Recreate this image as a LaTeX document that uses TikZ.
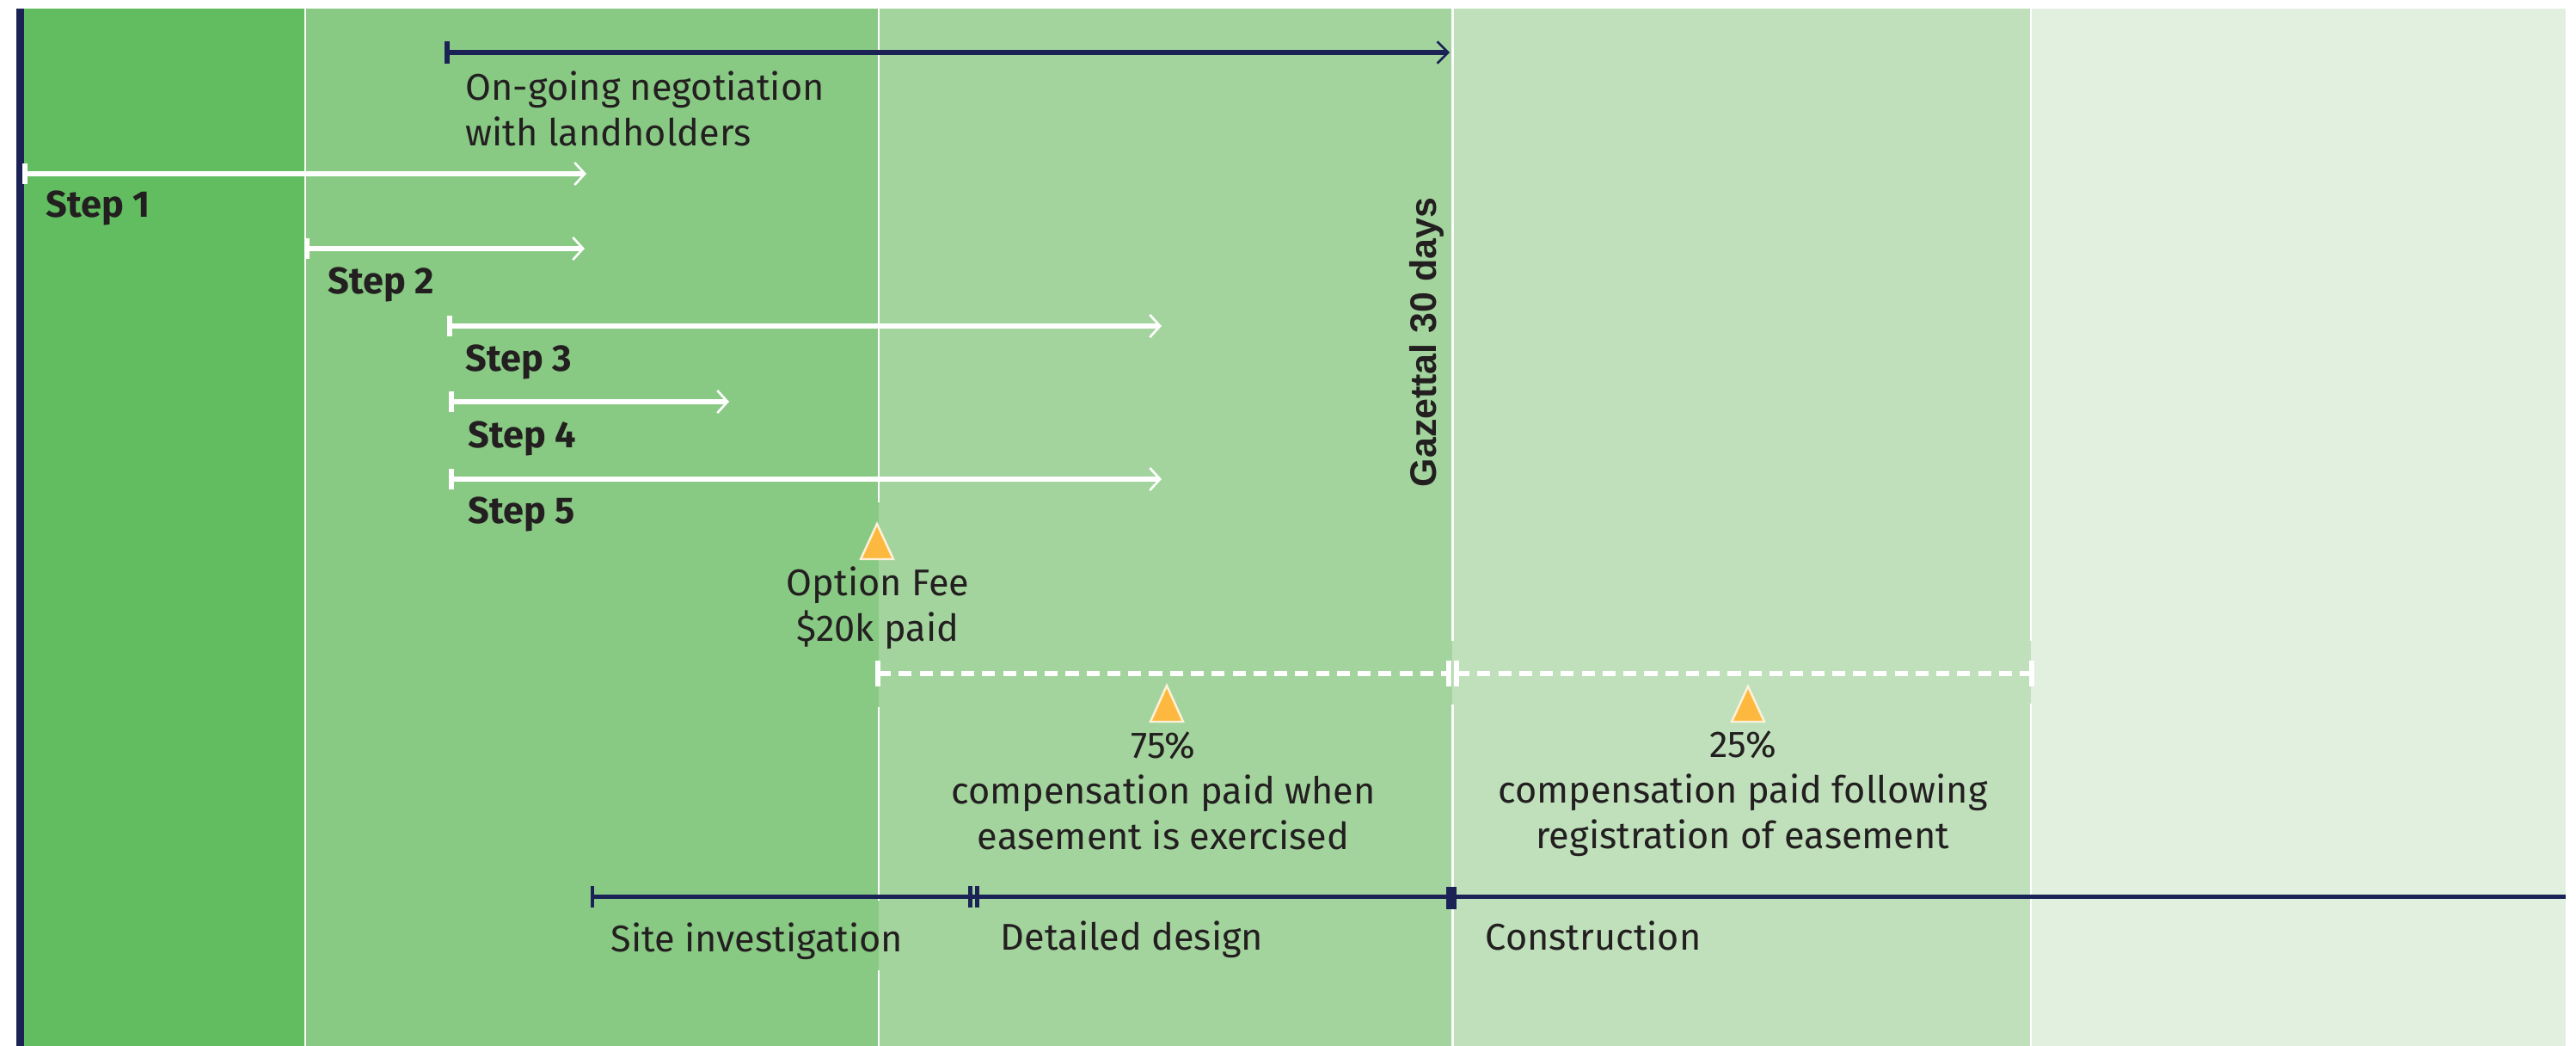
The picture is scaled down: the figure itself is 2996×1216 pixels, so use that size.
\documentclass[tikz,border=0pt]{standalone}
\usepackage{fontspec}
\setmainfont{Fira Sans}
\newfontfamily\gazfont{Liberation Sans}
\usetikzlibrary{arrows.meta}
\definecolor{bandA}{HTML}{62BD60}
\definecolor{bandB}{HTML}{88C983}
\definecolor{bandC}{HTML}{A3D49D}
\definecolor{bandD}{HTML}{BFE0BB}
\definecolor{bandE}{HTML}{E1F0DF}
\definecolor{navy}{HTML}{1B2356}
\definecolor{orangeT}{HTML}{FDB93F}
\definecolor{ink}{HTML}{231F20}
\tikzset{
  sep/.style={draw=white, line width=0.8pt},
  navyline/.style={draw=navy, line width=1.7pt},
  navytl/.style={draw=navy, line width=1.45pt},
  navytick/.style={draw=navy, line width=1.55pt},
  whiteline/.style={draw=white, line width=1.56pt},
  whitetick/.style={draw=white, line width=1.45pt},
  dashline/.style={draw=white, line width=1.85pt, dash pattern=on 4.3pt off 2.6pt},
  chevW/.style={-{Straight Barb[length=3.4pt,width=7.4pt,line width=0.75pt]}},
  chevN/.style={-{Straight Barb[length=3.6pt,width=7.2pt,line width=0.75pt]}},
  lbl/.style={inner sep=0pt, text=ink, font=\fontsize{12.3}{15.1}\selectfont},
  steplbl/.style={lbl, anchor=base west, font=\fontsize{12.3}{15.1}\selectfont\bfseries},
  tri/.style={fill=orangeT, draw=white!80!orangeT, line width=0.7pt, line join=miter},
}
\begin{document}
\begin{tikzpicture}[x=0.01cm, y=-0.01cm]
\useasboundingbox (0,0) rectangle (2996,1216);
% bands
\fill[bandA] (28,10) rectangle (354,1216);
\fill[bandB] (354,10) rectangle (1022,1216);
\fill[bandC] (1022,10) rectangle (1689,1216);
\fill[bandD] (1689,10) rectangle (2362,1216);
\fill[bandE] (2362,10) rectangle (2984,1216);
\fill[navy] (19,10) rectangle (28,1216);
% separators
\draw[sep] (355,10) -- (355,1216);
\draw[sep] (1022,10) -- (1022,584) (1022,822) -- (1022,1047) (1022,1128) -- (1022,1216);
\draw[sep] (1689.5,10) -- (1689.5,745) (1689.5,819) -- (1689.5,1216);
\draw[sep] (2362,10) -- (2362,745) (2362,818) -- (2362,1216);

% negotiation
\coordinate (negA) at (520,61);
\coordinate (negB) at (1686,61);
\draw[navytick] (negA) ++(0,-13) -- ++(0,26);
\draw[navyline, chevN] (negA) -- (negB);
\node[lbl, anchor=base west, align=left] (negT) at (541,170) {On-going negotiation\\with landholders};

% steps
\coordinate (s1a) at (29,202);  \coordinate (s1b) at (682,202);
\coordinate (s2a) at (357,289); \coordinate (s2b) at (680,289);
\coordinate (s3a) at (523,379); \coordinate (s3b) at (1351,379);
\coordinate (s4a) at (525,467); \coordinate (s4b) at (848,467);
\coordinate (s5a) at (525,557); \coordinate (s5b) at (1351,557);
\foreach \s in {s1,s2,s3,s4,s5}{
  \draw[whitetick] (\s a) ++(0,-12) -- ++(0,24);
  \draw[whiteline, chevW] (\s a) -- (\s b);
}
\node[steplbl] (t1) at (53,253) {Step 1};
\node[steplbl] (t2) at (381,342) {Step 2};
\node[steplbl] (t3) at (541,432) {Step 3};
\node[steplbl] (t4) at (544,521) {Step 4};
\node[steplbl] (t5) at (544,609) {Step 5};

% gazettal
\node[inner sep=0pt, text=ink, rotate=90, anchor=base, font=\gazfont\bfseries\fontsize{12.2}{14}\selectfont] (gaz) at (1670,398) {Gazettal 30 days};

% option fee
\draw[tri] (1020,609) -- (1001,650) -- (1039,650) -- cycle;
\node[lbl, anchor=base, align=center] (opt) at (1021,746) {Option Fee\\\$20k paid};

% dashed compensation line
\coordinate (dA) at (1021,783);
\coordinate (dB) at (1685,783);
\coordinate (dC) at (1694,783);
\coordinate (dD) at (2363,783);
\draw[dashline] (dA) -- (dB);
\draw[dashline] (dC) -- (dD);
\foreach \c in {dA,dB,dC,dD}{
  \draw[whitetick] (\c) ++(0,-15) -- ++(0,30);
}

% 75 / 25 %
\draw[tri] (1357,797) -- (1338,839) -- (1376,839) -- cycle;
\node[lbl, anchor=base, align=center] (p75) at (1353,987.5) {75\%\\compensation paid when\\easement is exercised};
\draw[tri] (2033,798) -- (2014,839) -- (2052,839) -- cycle;
\node[lbl, anchor=base, align=center] (p25) at (2027,987) {25\%\\compensation paid following\\registration of easement};

% bottom timeline
\coordinate (tA) at (689,1042.5);
\coordinate (tB) at (1128.5,1042.5);
\coordinate (tC) at (1136.5,1042.5);
\coordinate (tD) at (1688,1042.5);
\coordinate (tE) at (2984,1042.5);
\draw[navytl] (tA) -- (tE);
\foreach \c in {tA,tB,tC}{
  \draw[navytick, line width=1.4pt] (\c) ++(0,-12.5) -- ++(0,25);
}
\fill[navy] (1682,1031) rectangle (1694,1057);
\node[lbl, anchor=base west] (siteT) at (710,1106) {Site investigation};
\node[lbl, anchor=base west] (desT) at (1163,1104) {Detailed design};
\node[lbl, anchor=base west] (conT) at (1727,1104) {Construction};
\end{tikzpicture}
\end{document}
